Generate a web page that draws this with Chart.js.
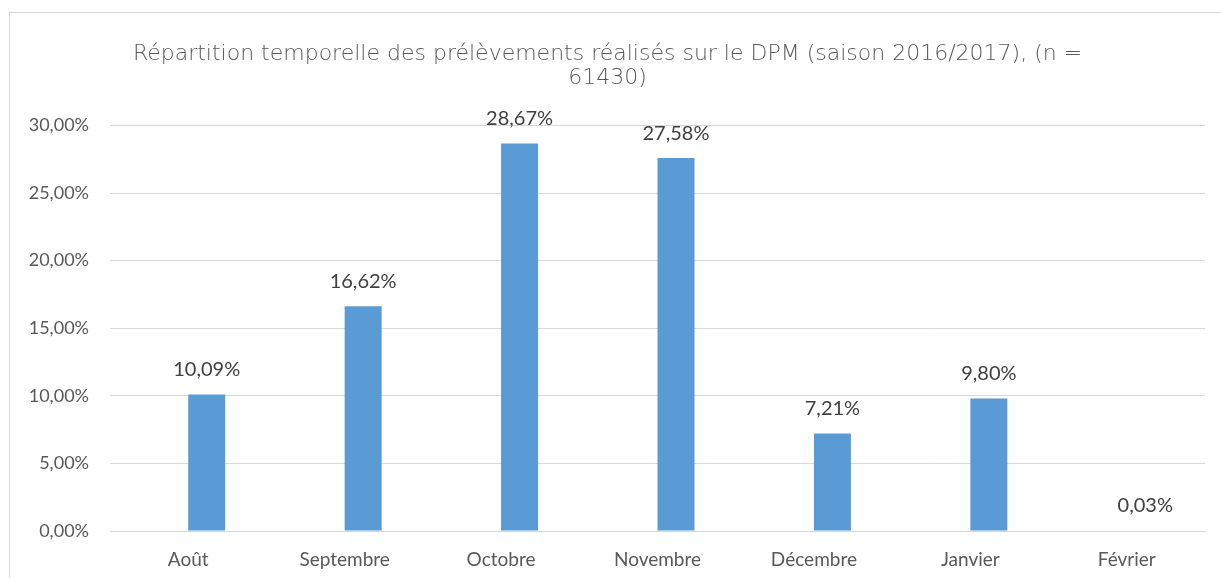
<!DOCTYPE html>
<html>
<head>
<meta charset="utf-8">
<script src="https://cdn.jsdelivr.net/npm/chart.js@4"></script>
<style>
  html, body { margin: 0; padding: 0; background: #fff; overflow: hidden; }
  #frame {
    position: absolute;
    left: 9px;
    top: 12px;
    width: 1212px;
    height: 566px;
    border-left: 1px solid #d9d9d9;
    border-top: 1px solid #d9d9d9;
  }
  #chartWrap { width: 1211px; height: 565px; }
</style>
</head>
<body>
<div id="frame">
  <div id="chartWrap"><canvas id="barChart"></canvas></div>
</div>
<script>
// Chart data
const months = ["Août", "Septembre", "Octobre", "Novembre", "Décembre", "Janvier", "Février"];
const shares = [10.09, 16.62, 28.67, 27.58, 7.21, 9.80, 0.03];
// empty first series (keeps the bars shifted like in the original workbook)
const emptySeries = [null, null, null, null, null, null, null];
const chartTitle = ["Répartition temporelle des prélèvements réalisés sur le DPM (saison 2016/2017), (n =", "61430)"];

function formatPercent(v) {
  return v.toFixed(2).replace(".", ",") + "%";
}

// Small plugin to write the values above the bars
const valueLabels = {
  id: "valueLabels",
  afterDatasetsDraw(chart) {
    const ctx = chart.ctx;
    const meta = chart.getDatasetMeta(1);
    ctx.save();
    ctx.font = "20px Lato";
    ctx.fillStyle = "#404040";
    ctx.textAlign = "center";
    ctx.textBaseline = "middle";
    meta.data.forEach((bar, i) => {
      ctx.fillText(formatPercent(shares[i]), bar.x, bar.y - 25);
    });
    ctx.restore();
  },
};

const ctx = document.getElementById("barChart").getContext("2d");
new Chart(ctx, {
  type: "bar",
  data: {
    labels: months,
    datasets: [
      { data: emptySeries, backgroundColor: "#5b9bd5" },
      { data: shares, backgroundColor: "#5b9bd5" },
    ],
  },
  options: {
    responsive: true,
    maintainAspectRatio: false,
    animation: false,
    categoryPercentage: 0.473,
    barPercentage: 1.0,
    layout: {
      padding: { left: 0, right: 16, top: 0, bottom: 0 },
    },
    plugins: {
      legend: { display: false },
      tooltip: { enabled: false },
      title: {
        display: true,
        text: chartTitle,
        color: "#595959",
        font: { family: "DejaVu Sans", size: 22, weight: "200", lineHeight: 1.1 },
        padding: { top: 29, bottom: 35 },
      },
    },
    scales: {
      x: {
        grid: { display: false, drawTicks: false },
        border: { display: true, color: "#d9d9d9", width: 1 },
        ticks: {
          color: "#595959",
          font: { family: "Lato", size: 19 },
          padding: 17,
          maxRotation: 0,
        },
        afterFit(scale) {
          scale.height = 47;
        },
      },
      y: {
        min: 0,
        max: 30,
        grid: { color: "#d9d9d9", drawTicks: false },
        border: { display: false },
        ticks: {
          stepSize: 5,
          color: "#595959",
          font: { family: "Lato", size: 18 },
          padding: 21,
          callback: (v) => formatPercent(v),
        },
        afterFit(scale) {
          scale.width = 100;
        },
      },
    },
  },
  plugins: [valueLabels],
});
</script>
</body>
</html>
